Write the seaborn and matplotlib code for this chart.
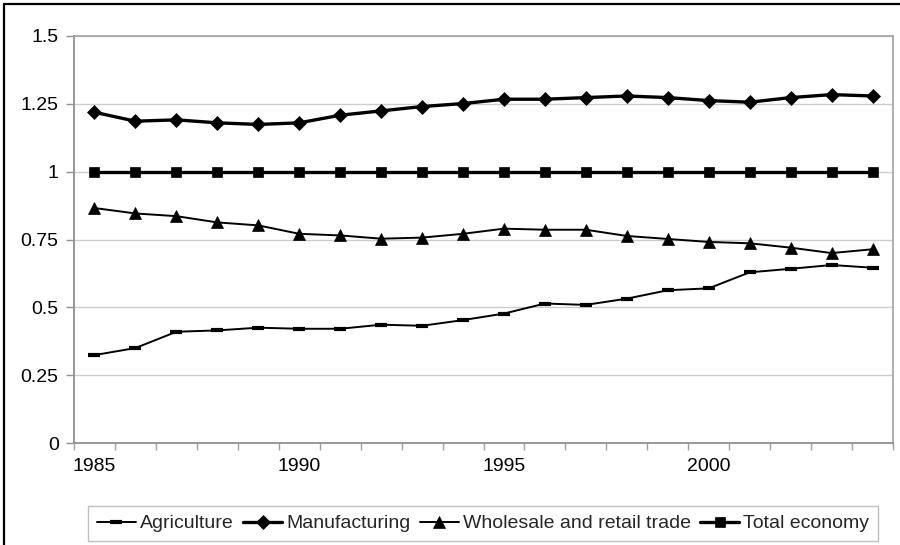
import matplotlib
matplotlib.use("Agg")
import matplotlib.pyplot as plt
from matplotlib.lines import Line2D
from matplotlib.ticker import FixedLocator, NullFormatter
import seaborn as sns
import pandas as pd

years = list(range(1985, 2005))
agriculture = [0.324, 0.350, 0.410, 0.415, 0.425, 0.421, 0.421, 0.436, 0.432, 0.453,
               0.477, 0.514, 0.509, 0.532, 0.563, 0.570, 0.629, 0.642, 0.656, 0.646]
manufacturing = [1.219, 1.186, 1.191, 1.180, 1.174, 1.180, 1.208, 1.224, 1.240, 1.251,
                 1.267, 1.267, 1.273, 1.279, 1.273, 1.262, 1.256, 1.273, 1.284, 1.279]
wholesale = [0.866, 0.846, 0.836, 0.813, 0.802, 0.771, 0.765, 0.753, 0.757, 0.771,
             0.790, 0.786, 0.786, 0.763, 0.752, 0.741, 0.736, 0.720, 0.700, 0.714]
total = [1.0] * 20
series_names = ["Agriculture", "Manufacturing", "Wholesale and retail trade", "Total economy"]
y_ticks = [0, 0.25, 0.5, 0.75, 1, 1.25, 1.5]
y_tick_labels = ["0", "0.25", "0.5", "0.75", "1", "1.25", "1.5"]
x_label_years = [1985, 1990, 1995, 2000]

sns.set_theme(style="white")
plt.rcParams["font.family"] = ["Liberation Sans", "DejaVu Sans"]

fig = plt.figure(figsize=(9, 5.45), dpi=100)
ax = fig.add_axes([74 / 900, 1 - 443 / 545, (893 - 74) / 900, (443 - 36) / 545])

styles = {
    "Agriculture": dict(marker="_", markersize=8, markeredgewidth=3, linewidth=1.4),
    "Manufacturing": dict(marker="D", markersize=7, linewidth=2.4),
    "Wholesale and retail trade": dict(marker="^", markersize=9, linewidth=1.4),
    "Total economy": dict(marker="s", markersize=7, linewidth=2.4),
}
values = {
    "Agriculture": agriculture,
    "Manufacturing": manufacturing,
    "Wholesale and retail trade": wholesale,
    "Total economy": total,
}

for name in series_names:
    df = pd.DataFrame({"year": years, "value": values[name]})
    st = styles[name]
    sns.lineplot(data=df, x="year", y="value", ax=ax, color="black",
                 linewidth=st["linewidth"], marker=st["marker"],
                 markersize=st["markersize"],
                 markeredgewidth=st.get("markeredgewidth", 0.5),
                 markeredgecolor="black", markerfacecolor="black",
                 label=name, zorder=3)

ax.set_xlim(1984.5, 2004.5)
ax.set_ylim(0, 1.5)
ax.set_yticks(y_ticks)
ax.set_yticklabels(y_tick_labels)
ax.set_xticks(x_label_years)
ax.set_xticklabels([str(y) for y in x_label_years])
ax.xaxis.set_minor_locator(FixedLocator([y - 0.5 for y in years] + [2004.5]))
ax.xaxis.set_minor_formatter(NullFormatter())
ax.tick_params(axis="x", which="major", length=0, labelsize=14, pad=11, colors="black")
ax.tick_params(axis="x", which="minor", length=5, width=1, color="#a0a0a0", bottom=True)
ax.tick_params(axis="y", which="major", length=6, width=1, color="#909090",
               labelsize=14, pad=5, left=True, labelcolor="black")
ax.set_xlabel("")
ax.set_ylabel("")
ax.yaxis.grid(True, color="#cccccc", linewidth=1)
ax.xaxis.grid(False)
ax.set_axisbelow(True)
for side in ["left", "bottom"]:
    ax.spines[side].set_color("#909090")
    ax.spines[side].set_linewidth(1.3)
for side in ["top", "right"]:
    ax.spines[side].set_color("#a8a8a8")
    ax.spines[side].set_linewidth(1.3)

leg = ax.legend(loc="center", bbox_to_anchor=(483 / 900, 1 - 523.5 / 545),
                bbox_transform=fig.transFigure, ncol=4, frameon=True, fancybox=False,
                fontsize=14, handlelength=2.0, handletextpad=0.2, columnspacing=0.5,
                borderpad=0.45, numpoints=1, edgecolor="#b0b0b0")
leg.get_frame().set_linewidth(1)

fig.add_artist(Line2D([4 / 900, 4 / 900], [0, 1 - 4 / 545], transform=fig.transFigure,
                      color="black", linewidth=1.6))
fig.add_artist(Line2D([4 / 900, 1], [1 - 4 / 545, 1 - 4 / 545], transform=fig.transFigure,
                      color="black", linewidth=1.6))

fig.savefig("out.png", dpi=100)
